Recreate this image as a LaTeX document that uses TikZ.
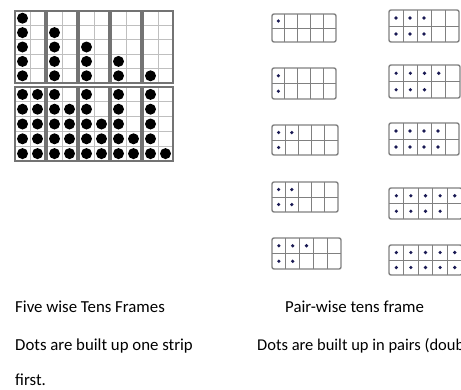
\documentclass[tikz,border=0pt]{standalone}
\usepackage{fontspec}
\setmainfont{Carlito}
\newcommand\bigtf[4]{%
  \foreach \r in {1,...,4} \draw[biggrid] (#1,#2+\r*#3/5) -- ++(30,0);
  \draw[biggrid] (#1+15,#2) -- ++(0,#3);
  \foreach \c/\rr in {#4} \fill[bigdot] (#1+\c*15-7.5,#2+\rr*#3/5-#3/10) circle (5.5);
  \draw[bigouter] (#1,#2) rectangle ++(30,#3);
}
\newcommand\smalltf[6]{%
  \pgfmathsetmacro\cw{(#3-#1)/5}\pgfmathsetmacro\ch{(#4-#2)/2}
  \draw[smallgrid] (#1,#2+\ch) -- (#3,#2+\ch);
  \foreach \i in {1,...,4} \draw[smallgrid] (#1+\i*\cw,#2) -- (#1+\i*\cw,#4);
  \draw[smallouter] (#1,#2) rectangle (#3,#4);
  \foreach \i in {1,...,#5} \fill[smalldot] (#1+\i*\cw-\cw/2,#2+\ch/2) circle (1.8);
  \ifnum#6>0 \foreach \i in {1,...,#6} \fill[smalldot] (#1+\i*\cw-\cw/2,#2+1.5*\ch) circle (1.8);\fi
}
\begin{document}
\begin{tikzpicture}[x=1bp,y=-1bp,
  bigouter/.style={draw=black!55,line width=1.9bp},
  biggrid/.style={draw=black!25,line width=1bp},
  bigdot/.style={fill=black},
  smallouter/.style={draw=black!50,line width=1.4bp,rounded corners=2bp},
  smallgrid/.style={draw=black!50,line width=1bp},
  smalldot/.style={fill=black!75!blue!90!white},
  lbl/.style={anchor=base west,inner sep=0pt,font=\fontsize{16.8bp}{20bp}\selectfont}]
\useasboundingbox (0,0) rectangle (461,389);
\clip (0,0) rectangle (461,389);
% five-wise frames, top row
\bigtf{15}{11}{72}{1/1,1/2,1/3,1/4,1/5}
\bigtf{47}{11}{72}{1/2,1/3,1/4,1/5}
\bigtf{79}{11}{72}{1/3,1/4,1/5}
\bigtf{111}{11}{72}{1/4,1/5}
\bigtf{143}{11}{72}{1/5}
% bottom row
\bigtf{15}{87}{74}{1/1,1/2,1/3,1/4,1/5,2/1,2/2,2/3,2/4,2/5}
\bigtf{47}{87}{74}{1/1,1/2,1/3,1/4,1/5,2/2,2/3,2/4,2/5}
\bigtf{79}{87}{74}{1/1,1/2,1/3,1/4,1/5,2/3,2/4,2/5}
\bigtf{111}{87}{74}{1/1,1/2,1/3,1/4,1/5,2/4,2/5}
\bigtf{143}{87}{74}{1/1,1/2,1/3,1/4,1/5,2/5}
% pair-wise frames
\smalltf{272}{14}{336}{42}{1}{0}
\smalltf{272}{68}{336}{99}{1}{1}
\smalltf{272}{125}{338}{155}{2}{1}
\smalltf{272}{182}{338}{212}{2}{2}
\smalltf{272}{238}{341}{269}{3}{2}
\smalltf{389}{10}{459}{42}{3}{3}
\smalltf{389}{65}{460}{98}{4}{3}
\smalltf{389}{123}{459}{155}{4}{4}
\smalltf{389}{188}{462}{219}{5}{4}
\smalltf{389}{245}{462}{275}{5}{5}
% labels
\node[lbl] (t1) at (15,312) {Five wise Tens Frames};
\node[lbl] (t2) at (285,312) {Pair-wise tens frame};
\node[lbl] (t3) at (15,350) {Dots are built up one strip};
\node[lbl,font=\fontsize{16.5bp}{20bp}\selectfont] (t4) at (257,350) {Dots are built up in pairs (doub};
\node[lbl] (t5) at (15,385) {first.};
\end{tikzpicture}
\end{document}
